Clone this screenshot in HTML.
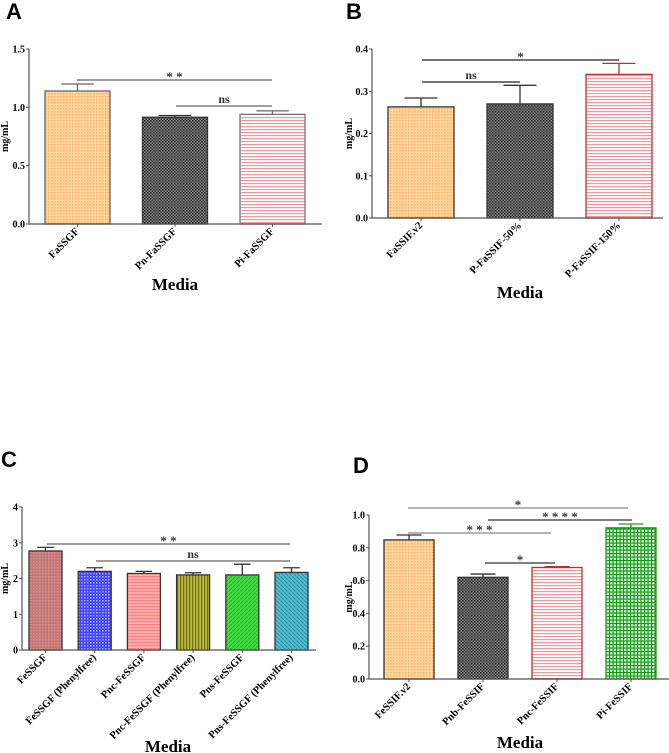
<!DOCTYPE html>
<html><head><meta charset="utf-8"><style>
html,body{margin:0;padding:0;background:#fff;}
svg{display:block;font-family:"Liberation Serif",serif;}
.pl{font-family:"Liberation Sans",sans-serif;font-weight:bold;font-size:22px;}
</style></head><body>
<svg id="fig" width="669" height="753" viewBox="0 0 669 753">
<defs>
<pattern id="pOrange" width="3" height="3" patternUnits="userSpaceOnUse"><rect width="3" height="3" fill="#ffd6a0"/><rect width="1.5" height="1.5" fill="#ffb060"/></pattern>
<pattern id="pGray" width="3" height="3" patternUnits="userSpaceOnUse"><rect width="3" height="3" fill="#888"/><rect width="1.5" height="1.5" fill="#222"/><rect x="1.5" y="1.5" width="1.5" height="1.5" fill="#333"/></pattern>
<pattern id="pRedH" width="4" height="3" patternUnits="userSpaceOnUse"><rect width="4" height="3" fill="#fff"/><rect width="4" height="1.2" fill="#ee9a9a"/></pattern>
<pattern id="pRose" width="3" height="3" patternUnits="userSpaceOnUse"><rect width="3" height="3" fill="#c47878"/><rect width="1.5" height="1.5" fill="#d89090"/></pattern>
<pattern id="pBlue" width="3" height="3" patternUnits="userSpaceOnUse"><rect width="3" height="3" fill="#4444ff"/><rect width="1.5" height="1.5" fill="#aab0ff"/></pattern>
<pattern id="pSalmon" width="4" height="3" patternUnits="userSpaceOnUse"><rect width="4" height="3" fill="#ffb0b0"/><rect width="4" height="1.2" fill="#ff8080"/></pattern>
<pattern id="pOlive" width="3" height="4" patternUnits="userSpaceOnUse"><rect width="3" height="4" fill="#b8b840"/><rect width="1.2" height="4" fill="#707010"/></pattern>
<pattern id="pGreen" width="4" height="4" patternUnits="userSpaceOnUse"><rect width="4" height="4" fill="#44dd44"/><path d="M0 4L4 0" stroke="#30b030" stroke-width="1"/></pattern>
<pattern id="pTeal" width="4" height="4" patternUnits="userSpaceOnUse"><rect width="4" height="4" fill="#50c0d0"/><path d="M0 0L4 4" stroke="#3090a8" stroke-width="1"/></pattern>
<pattern id="pGrid" width="3.5" height="3.5" patternUnits="userSpaceOnUse"><rect width="3.5" height="3.5" fill="#c8ecc8"/><rect width="3.5" height="1.1" fill="#189818"/><rect width="1.1" height="3.5" fill="#189818"/></pattern>
</defs>
</svg>
<script>
// Panel A
const catsA=["FaSSGF","Pn-FaSSGF","Pi-FaSSGF"];
const valsA=[1.14,0.915,0.94];
const errA=[1.20,0.93,0.97];
const ticksA=["0.0","0.5","1.0","1.5"];
// Panel B
const catsB=["FaSSIF.v2","P-FaSSIF-50%","P-FaSSIF-150%"];
const valsB=[0.263,0.270,0.340];
const errB=[0.284,0.314,0.366];
const ticksB=["0.0","0.1","0.2","0.3","0.4"];
// Panel C
const catsC=["FeSSGF","FeSSGF (Phenylfree)","Pnc-FeSSGF","Pnc-FeSSGF (Phenylfree)","Pns-FeSSGF","Pns-FeSSGF (Phenylfree)"];
const valsC=[2.77,2.20,2.14,2.10,2.10,2.17];
const errC=[2.87,2.30,2.20,2.16,2.40,2.30];
const ticksC=["0","1","2","3","4"];
// Panel D
const catsD=["FeSSIF.v2","Pnb-FeSSIF","Pnc-FeSSIF","Pi-FeSSIF"];
const valsD=[0.848,0.620,0.680,0.922];
const errD=[0.878,0.640,0.685,0.945];
const ticksD=["0.0","0.2","0.4","0.6","0.8","1.0"];

const NS="http://www.w3.org/2000/svg";
const svg=document.getElementById('fig');
function mk(tag,attrs,parent,text){const e=document.createElementNS(NS,tag);for(const k in attrs)e.setAttribute(k,attrs[k]);if(text!==undefined)e.textContent=text;(parent||svg).appendChild(e);return e;}

function panel(o){
  const g=mk('g',{});
  
  
  const y=v=>o.y0-(v/o.ymax)*(o.y0-o.y1);
  const lab=mk('text',{x:o.lx,y:o.ly,class:'pl'},g,o.id);
  
  
  o.cats.forEach((c,i)=>{
    const x0=o.bx0+i*o.step;
    const bar=mk('rect',{x:x0,y:y(o.vals[i]),width:o.bw,height:o.y0-y(o.vals[i]),fill:'url(#'+o.fills[i]+')',stroke:o.strokes[i],'stroke-width':1.3},g);
    
    
    const cx=x0+o.bw/2;
    const eb=mk('path',{d:`M${cx} ${y(o.vals[i])}V${y(o.errs[i])}M${cx-o.bw/4} ${y(o.errs[i])}H${cx+o.bw/4}`,stroke:o.strokes[i],'stroke-width':1.3,fill:'none'},g);
    
    
    mk('line',{x1:cx,x2:cx,y1:o.y0,y2:o.y0+3,stroke:'#555'},g);
    const t=mk('text',{x:cx+2,y:o.y0+8,'font-size':10.5,'font-weight':'bold','text-anchor':'end',transform:`rotate(-45 ${cx+2} ${o.y0+8})`},g,c);
    
    
  });
  const ax=mk('path',{d:`M${o.ax} ${o.y1}V${o.y0}H${o.axEnd}`,stroke:'#555','stroke-width':1.2,fill:'none'},g);
  
  
  o.ticks.forEach((t,i)=>{
    const v=parseFloat(t);const yy=y(v);
    mk('line',{x1:o.ax-3,x2:o.ax,y1:yy,y2:yy,stroke:'#555'},g);
    const tl=mk('text',{x:o.ax-4,y:yy+3.5,'font-size':10,'font-weight':'bold','text-anchor':'end'},g,t);
    
    
  });
  const yt=mk('text',{x:o.ylx,y:(o.y0+o.y1)/2,'font-size':10,'font-weight':'bold','text-anchor':'middle',transform:`rotate(-90 ${o.ylx} ${(o.y0+o.y1)/2})`},g,'mg/mL');
  
  
  const xt=mk('text',{x:o.mx,y:o.my,'font-size':17,'font-weight':'bold','text-anchor':'middle'},g,'Media');
  
  
  o.brackets.forEach(b=>{
    const l=mk('line',{x1:b[0],x2:b[1],y1:b[2],y2:b[2],stroke:b[4]||'#666','stroke-width':1.3},g);
    
    
    const s=mk('text',{x:(b[0]+b[1])/2,y:b[2]-(b[3]==='ns'?3:-1),'font-size':b[3]==='ns'?12:13,'font-weight':'bold','text-anchor':'middle','fill':'#333'},g,b[3]);
    
    
  });
}

panel({id:'A',lx:6,ly:19,cats:catsA,vals:valsA,errs:errA,ticks:ticksA,ymax:1.5,y0:224,y1:49,ax:29,axEnd:322,bx0:45,bw:65,step:97.5,
 fills:['pOrange','pGray','pRedH'],strokes:['#666','#333','#777'],ylx:8,mx:175,my:290,
 brackets:[[77,272,80,'* *'],[176,272,106,'ns']]});
panel({id:'B',lx:346,ly:19,cats:catsB,vals:valsB,errs:errB,ticks:ticksB,ymax:0.4,y0:218,y1:49,ax:372,axEnd:663,bx0:388,bw:66,step:99,
 fills:['pOrange','pGray','pRedH'],strokes:['#333','#333','#c03030'],ylx:352,mx:520,my:298,
 brackets:[[422,619,60,'*','#222'],[422,520,82,'ns','#222']]});
panel({id:'C',lx:1,ly:467,cats:catsC,vals:valsC,errs:errC,ticks:ticksC,ymax:4,y0:650,y1:507,ax:22,axEnd:316,bx0:29,bw:33,step:49.2,
 fills:['pRose','pBlue','pSalmon','pOlive','pGreen','pTeal'],strokes:['#333','#333','#333','#333','#333','#333'],ylx:8,mx:168,my:752,
 brackets:[[47,290,544,'* *'],[96,290,561,'ns']]});
panel({id:'D',lx:353,ly:473,cats:catsD,vals:valsD,errs:errD,ticks:ticksD,ymax:1.0,y0:679,y1:515,ax:369,axEnd:669,bx0:384,bw:50,step:74,
 fills:['pOrange','pGray','pRedH','pGrid'],strokes:['#333','#333','#c03030','#20a020'],ylx:352,mx:520,my:748,
 brackets:[[408,628,508,'*','#888'],[488,632,520,'* * * *','#333'],[408,551,533,'* * *','#888'],[485,555,563,'*','#333']]});
</script>
</body></html>
